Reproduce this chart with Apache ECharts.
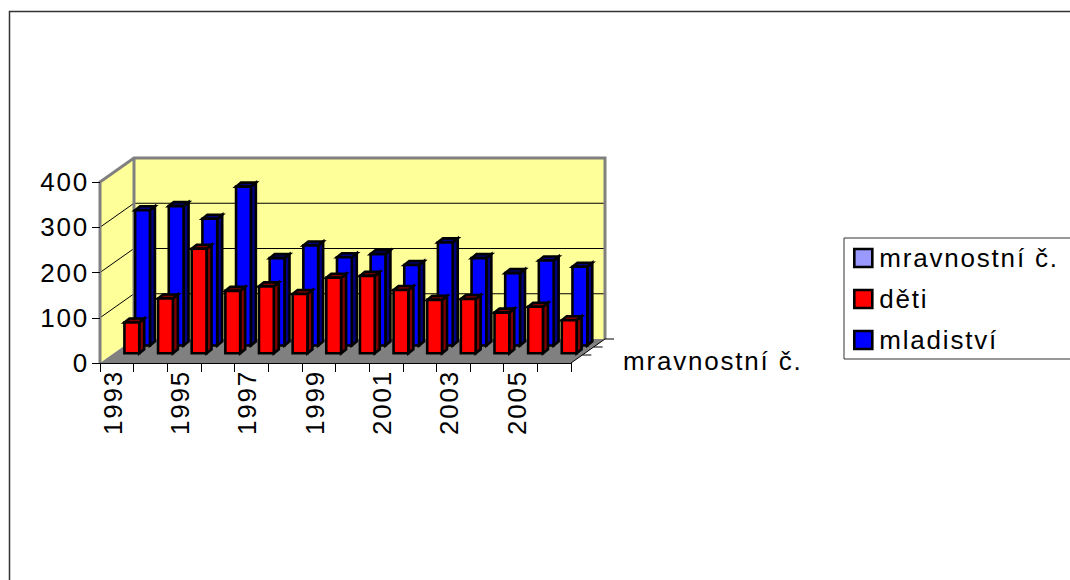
<!DOCTYPE html>
<html>
<head>
<meta charset="utf-8">
<style>
html,body{margin:0;padding:0;background:#fff}
#chart{width:1070px;height:580px;letter-spacing:1.8px}
</style>
<script src="https://cdn.jsdelivr.net/npm/echarts@6/dist/echarts.min.js"></script>
</head>
<body>
<div id="chart"></div>
<script>
const years = ['1993','1994','1995','1996','1997','1998','1999','2000','2001','2002','2003','2004','2005','2006'];
const seriesNames = ['mravnostní č.', 'děti', 'mladiství'];
const mravnostni = [];
const deti = [68,121,231,138,148,131,167,171,140,118,120,90,103,73];
const mladistvi = [299,308,280,351,193,221,195,202,178,228,193,160,188,174];
const valueTicks = [0,100,200,300,400];
const depthLabel = 'mravnostní č.';

const FONT = '"Liberation Sans", Arial, sans-serif';
const WALL_DX = 34, WALL_DY = 24;
const BAR_DX = 5, BAR_DY = 4;

function poly(points, fill, stroke, lineWidth) {
  return {type:'polygon', shape:{points}, style:{fill, stroke, lineWidth, lineJoin:'miter'}};
}
function line(x1,y1,x2,y2,stroke,lineWidth) {
  return {type:'line', shape:{x1,y1,x2,y2}, style:{stroke, lineWidth, fill:null}};
}

function renderWalls(params, api) {
  const c = params.coordSys;
  const L = c.x, R = c.x + c.width, T = c.y, B = c.y + c.height;
  const dx = WALL_DX, dy = WALL_DY;
  const kids = [
    poly([[L,B],[L+dx,B-dy],[L+dx,T-dy],[L,T]], '#FFFF99', null, 0),
    poly([[L+dx,B-dy],[R+dx,B-dy],[R+dx,T-dy],[L+dx,T-dy]], '#FFFF99', null, 0)
  ];
  valueTicks.slice(1,-1).forEach(function(v){
    const y = api.coord([0,v])[1];
    kids.push(line(L,y,L+dx,y-dy,'#000',1));
    kids.push(line(L+dx,y-dy,R+dx,y-dy,'#000',1));
  });
  kids.push(poly([[L,B],[R,B],[R+dx,B-dy],[L+dx,B-dy]], '#808080', null, 0));
  kids.push({type:'polyline', shape:{points:[[L,B],[L,T],[L+dx,T-dy],[R+dx,T-dy],[R+dx,B-dy]]},
    style:{stroke:'#808080', lineWidth:3, fill:null}});
  kids.push(line(L+dx,B-dy,L+dx,T-dy,'#808080',3));
  kids.push(line(R,B,R+dx,B-dy,'#000',1));
  [1,2,3].forEach(function(k){
    const x = R + dx*k/3, y = B - dy*k/3;
    kids.push(line(x,y,x+9,y,'#000',1));
  });
  kids.push({type:'text', style:{text:depthLabel, x:R+52, y:B-2, fill:'#000',
    font:'26px '+FONT, textVerticalAlign:'middle', textAlign:'left'}});
  return {type:'group', children:kids};
}

function barRenderer(offsetX, offsetY, widthRatio, face, dark) {
  return function(params, api) {
    const p = api.coord([api.value(0), api.value(1)]);
    const p0 = api.coord([api.value(0), 0]);
    const w = api.size([1,0])[0] * widthRatio;
    const x = p[0] + offsetX - w/2, x2 = x + w;
    const bot = p0[1] - offsetY, top = p[1] - offsetY;
    return {type:'group', children:[
      poly([[x2,top],[x2+BAR_DX,top-BAR_DY],[x2+BAR_DX,bot-BAR_DY],[x2,bot]], dark, '#000', 2.6),
      poly([[x,top],[x+BAR_DX,top-BAR_DY],[x2+BAR_DX,top-BAR_DY],[x2,top]], dark, '#000', 2.6),
      poly([[x,top],[x2,top],[x2,bot],[x,bot]], face, '#000', 2.6)
    ]};
  };
}

const chart = echarts.init(document.getElementById('chart'), null, {renderer:'svg', width:1070, height:580});
chart.setOption({
  animation:false,
  backgroundColor:'#fff',
  textStyle:{fontFamily:FONT},
  graphic:[{type:'rect', z:-1, silent:true, shape:{x:9.5,y:11.5,width:1200,height:800},
    style:{fill:'none', stroke:'#333', lineWidth:1.5}}],
  legend:{
    data:seriesNames, orient:'vertical', left:844, top:238,
    padding:[7,300,6,9], itemGap:15, itemWidth:18, itemHeight:18,
    icon:'rect', selectedMode:false,
    borderColor:'#333', borderWidth:1, backgroundColor:'#fff',
    itemStyle:{borderColor:'#000', borderWidth:2.6},
    textStyle:{fontSize:26, color:'#000', fontFamily:FONT, padding:[0,0,0,2]}
  },
  grid:{left:100, top:182, width:471, height:181, containLabel:false},
  xAxis:{
    type:'category', data:years, z:3,
    axisLine:{show:true, lineStyle:{color:'#000', width:1}},
    axisTick:{show:true, length:9, interval:0, lineStyle:{color:'#000'}},
    axisLabel:{interval:1, rotate:90, fontSize:26, color:'#000', margin:7, fontFamily:FONT,
      verticalAlign:'bottom', lineHeight:8}
  },
  yAxis:{
    type:'value', min:0, max:400, interval:100, z:3,
    axisLine:{show:false},
    axisTick:{show:true, length:8, lineStyle:{color:'#000'}},
    axisLabel:{fontSize:26, color:'#000', margin:11, fontFamily:FONT},
    splitLine:{show:false}
  },
  series:[
    {type:'custom', name:'walls', z:1, silent:true, data:[[0,0]], encode:{x:0,y:1}, renderItem:renderWalls, clip:false},
    {type:'custom', name:seriesNames[0], z:2, itemStyle:{color:'#9999FF'}, data:mravnostni, encode:{x:0,y:1},
      renderItem:barRenderer(4,3,0.44,'#9999FF','#4C4C80')},
    {type:'custom', name:seriesNames[2], z:4, itemStyle:{color:'#0000FF'}, encode:{x:0,y:1}, clip:false,
      data:mladistvi.map((v,i)=>[i,v]), renderItem:barRenderer(25.7,17.5,0.44,'#0000FF','#000080')},
    {type:'custom', name:seriesNames[1], z:5, itemStyle:{color:'#FF0000'}, encode:{x:0,y:1}, clip:false,
      data:deti.map((v,i)=>[i,v]), renderItem:barRenderer(15,9.7,0.44,'#FF0000','#800000')}
  ]
});
</script>
</body>
</html>
